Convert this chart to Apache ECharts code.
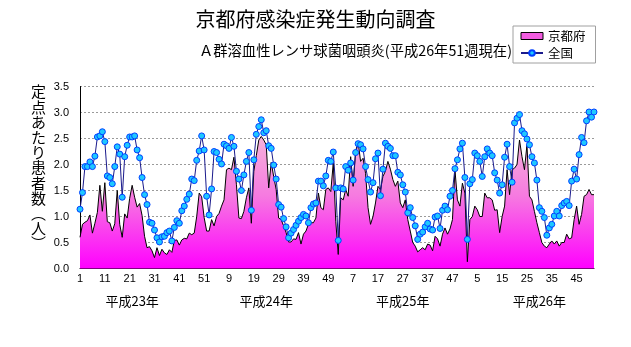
<!DOCTYPE html>
<html>
<head>
<meta charset="utf-8">
<script src="https://cdn.jsdelivr.net/npm/echarts@6/dist/echarts.min.js"></script>
<style>
html,body{margin:0;padding:0;background:#fff;}
#c{width:631px;height:347px;}
</style>
</head>
<body>
<div id="c"></div>
<script>
// ---- data ----
const weeksPerYear = [52, 52, 52, 52];
const yearLabels = ['平成23年', '平成24年', '平成25年', '平成26年'];
const yearLabelIndex = [21, 75, 130, 185];
const yTicks = [0, 0.5, 1, 1.5, 2, 2.5, 3, 3.5];

const kyoto2011 = [0.60,0.85,0.89,0.92,1.03,0.68,0.87,1.08,1.60,1.10,
  1.65,0.90,0.88,0.72,0.86,1.50,0.85,0.60,1.05,0.97,
  1.35,1.60,1.37,1.18,1.25,1.02,0.62,0.40,0.42,0.34,
  0.21,0.40,0.25,0.37,0.30,0.27,0.36,0.31,0.54,0.55,
  0.45,0.55,0.58,0.57,0.68,0.65,0.68,1.00,1.45,1.38,
  0.98,0.72];
const kyoto2012 = [0.72,0.94,0.82,1.00,1.06,1.20,1.32,1.90,1.93,1.90,
  2.14,1.61,0.97,0.96,1.10,1.36,1.55,0.87,1.87,2.17,
  2.47,2.54,2.47,2.38,1.55,2.04,1.77,1.52,0.97,0.94,
  0.82,0.69,0.51,0.51,0.57,0.56,0.69,0.47,0.66,0.72,
  0.85,0.88,0.88,0.97,1.45,1.17,1.13,1.52,1.55,1.48,
  2.03,0.91];
const kyoto2013 = [0.27,1.36,1.32,1.52,1.39,2.15,1.58,2.25,2.44,2.06,
  2.12,1.83,1.17,0.85,1.00,1.26,1.58,1.52,1.77,1.87,
  2.06,1.91,1.71,1.58,1.68,1.26,1.17,1.32,0.94,0.72,
  0.50,0.43,0.32,0.36,0.40,0.36,0.47,0.45,0.34,0.62,
  0.57,0.43,0.66,0.78,0.66,0.76,0.94,1.90,1.32,1.20,
  1.64,1.45];
const kyoto2014 = [0.13,0.94,1.00,1.20,1.13,1.00,1.00,1.45,1.36,1.36,
  1.32,1.12,1.13,0.69,1.00,1.20,1.90,1.42,1.90,1.93,
  2.00,2.47,2.15,1.90,2.38,1.39,1.32,1.10,0.88,0.69,
  0.50,0.43,0.40,0.47,0.53,0.47,0.53,0.43,0.50,0.50,
  0.66,0.57,0.59,0.94,1.20,0.85,1.04,1.39,1.42,1.52,
  1.42,1.42];

const national2011 = [1.14,1.46,1.96,1.96,2.05,1.96,2.16,2.53,2.55,2.63,
  2.44,1.78,1.75,1.63,1.96,2.34,2.20,1.37,2.15,2.37,
  2.53,2.53,2.55,2.28,2.13,1.75,1.42,1.23,0.89,0.87,
  0.74,0.59,0.51,0.61,0.62,0.69,0.72,0.53,0.79,0.92,
  0.87,1.11,1.20,1.33,1.43,1.72,1.69,2.08,2.26,2.55,
  2.28,1.39];
const national2012 = [1.03,1.53,2.25,2.23,2.10,2.01,2.39,2.36,2.31,2.52,
  2.35,1.87,1.72,1.50,1.80,2.06,2.23,1.12,2.09,2.58,
  2.73,2.86,2.61,2.65,2.36,2.31,1.99,1.72,1.23,1.18,
  0.96,0.80,0.59,0.68,0.75,0.83,0.91,0.98,1.04,1.01,
  0.88,1.17,1.24,1.26,1.68,1.68,1.59,1.78,2.08,2.06,
  2.24,1.55];
const national2013 = [0.54,1.55,1.53,1.96,1.89,2.03,1.70,2.23,2.40,2.38,
  2.30,1.96,1.71,1.47,1.65,2.11,2.22,1.40,1.91,2.41,
  2.35,2.31,2.17,2.17,1.85,1.80,1.61,1.47,1.07,1.17,
  0.98,0.82,0.56,0.66,0.70,0.80,0.87,0.76,0.74,0.99,
  1.01,0.77,1.12,1.20,1.13,1.39,1.50,1.92,2.09,2.30,
  2.41,1.75];
const national2014 = [0.56,1.63,1.71,2.22,2.17,2.06,1.77,2.15,2.30,2.22,
  2.17,1.84,1.70,1.45,1.61,2.14,2.39,1.96,1.66,2.80,
  2.89,2.96,2.65,2.59,2.49,2.38,2.15,2.03,1.70,1.17,
  1.10,0.98,0.64,0.78,0.85,1.01,1.10,1.01,1.21,1.26,
  1.29,1.21,1.68,1.91,1.72,2.19,2.52,2.42,2.84,3.01,
  2.91,3.01];

// ---- build ----
const categories = [];
weeksPerYear.forEach(n => { for (let w = 1; w <= n; w++) categories.push(String(w)); });
const kyoto = [].concat(kyoto2011, kyoto2012, kyoto2013, kyoto2014);
const national = [].concat(national2011, national2012, national2013, national2014);

const JP = '"Noto Sans CJK JP", "Noto Sans", sans-serif';
const chart = echarts.init(document.getElementById('c'), null, {renderer: 'canvas'});

const option = {
  animation: false,
  backgroundColor: '#fff',
  textStyle: {fontFamily: JP, color: '#000'},
  title: [
    {text: '京都府感染症発生動向調査', left: 'center', top: 9, padding: 0,
     textStyle: {fontSize: 20, fontWeight: 'normal', color: '#000', fontFamily: JP}},
    {text: 'Ａ群溶血性レンサ球菌咽頭炎(平成26年51週現在)', right: 119, top: 43, padding: 0,
     textStyle: {fontSize: 14.3, fontWeight: 'normal', color: '#000', fontFamily: JP}}
  ],
  legend: {
    orient: 'vertical', left: 513, top: 26,
    padding: [3, 10, 3, 7], itemGap: 3, itemWidth: 22, itemHeight: 7,
    borderColor: '#a0a0a0', borderWidth: 1, backgroundColor: '#fff',
    textStyle: {fontSize: 12.5, lineHeight: 14, fontFamily: JP, color: '#000'},
    data: [
      {name: '京都府', icon: 'rect', itemStyle: {color: '#f25ce0', borderColor: '#000', borderWidth: 1}},
      {name: '全国'}
    ]
  },
  grid: {left: 80, right: 37, top: 86.5, bottom: 78.5, containLabel: false},
  xAxis: {
    type: 'category', data: categories, boundaryGap: false,
    axisLine: {show: true, lineStyle: {color: '#000', width: 1}},
    axisTick: {show: true, inside: true, interval: 4, length: 3, lineStyle: {color: '#000'}},
    axisLabel: {interval: 9, fontSize: 11, color: '#000', margin: 5, fontFamily: 'Liberation Sans, sans-serif'},
    splitLine: {show: false}
  },
  yAxis: {
    type: 'value', min: yTicks[0], max: yTicks[yTicks.length - 1], interval: 0.5,
    axisLine: {show: true, lineStyle: {color: '#000', width: 1}},
    axisTick: {show: false},
    axisLabel: {fontSize: 11, color: '#000', margin: 11, fontFamily: 'Liberation Sans, sans-serif',
                formatter: v => v.toFixed(1)},
    splitLine: {show: true, lineStyle: {color: '#9a9a9a', type: [2, 2], width: 1}}
  },
  series: [
    {
      name: '京都府', type: 'line', data: kyoto, symbol: 'none', z: 2,
      lineStyle: {color: '#000', width: 1},
      itemStyle: {color: '#f25ce0'},
      areaStyle: {
        opacity: 1,
        color: new echarts.graphic.LinearGradient(0, 0, 0, 1, [
          {offset: 0, color: '#f6b2da'},
          {offset: 0.45, color: '#f67ae0'},
          {offset: 1, color: '#ff00ff'}
        ])
      }
    },
    {
      name: '全国', type: 'line', data: national, z: 3,
      symbol: 'circle', symbolSize: 6, showAllSymbol: true,
      lineStyle: {color: '#1a1a8c', width: 1},
      itemStyle: {color: '#1ec8ff', borderColor: '#0040ff', borderWidth: 1}
    }
  ]
};
chart.setOption(option);

// vertical y-axis name and year labels
const yName = '定点あたり患者数︵人︶'.split('').join('\n');
const graphics = [{
  type: 'text', left: 31, top: 84,
  style: {text: yName, font: '15px ' + JP, lineHeight: 15.2, fill: '#000', align: 'center'}
}];
yearLabels.forEach((t, k) => {
  const px = chart.convertToPixel({xAxisIndex: 0}, yearLabelIndex[k]);
  graphics.push({
    type: 'text', x: px, y: 301,
    style: {text: t, font: '13px ' + JP, fill: '#000', align: 'center', verticalAlign: 'middle'}
  });
});
chart.setOption({graphic: graphics});
</script>
</body>
</html>
